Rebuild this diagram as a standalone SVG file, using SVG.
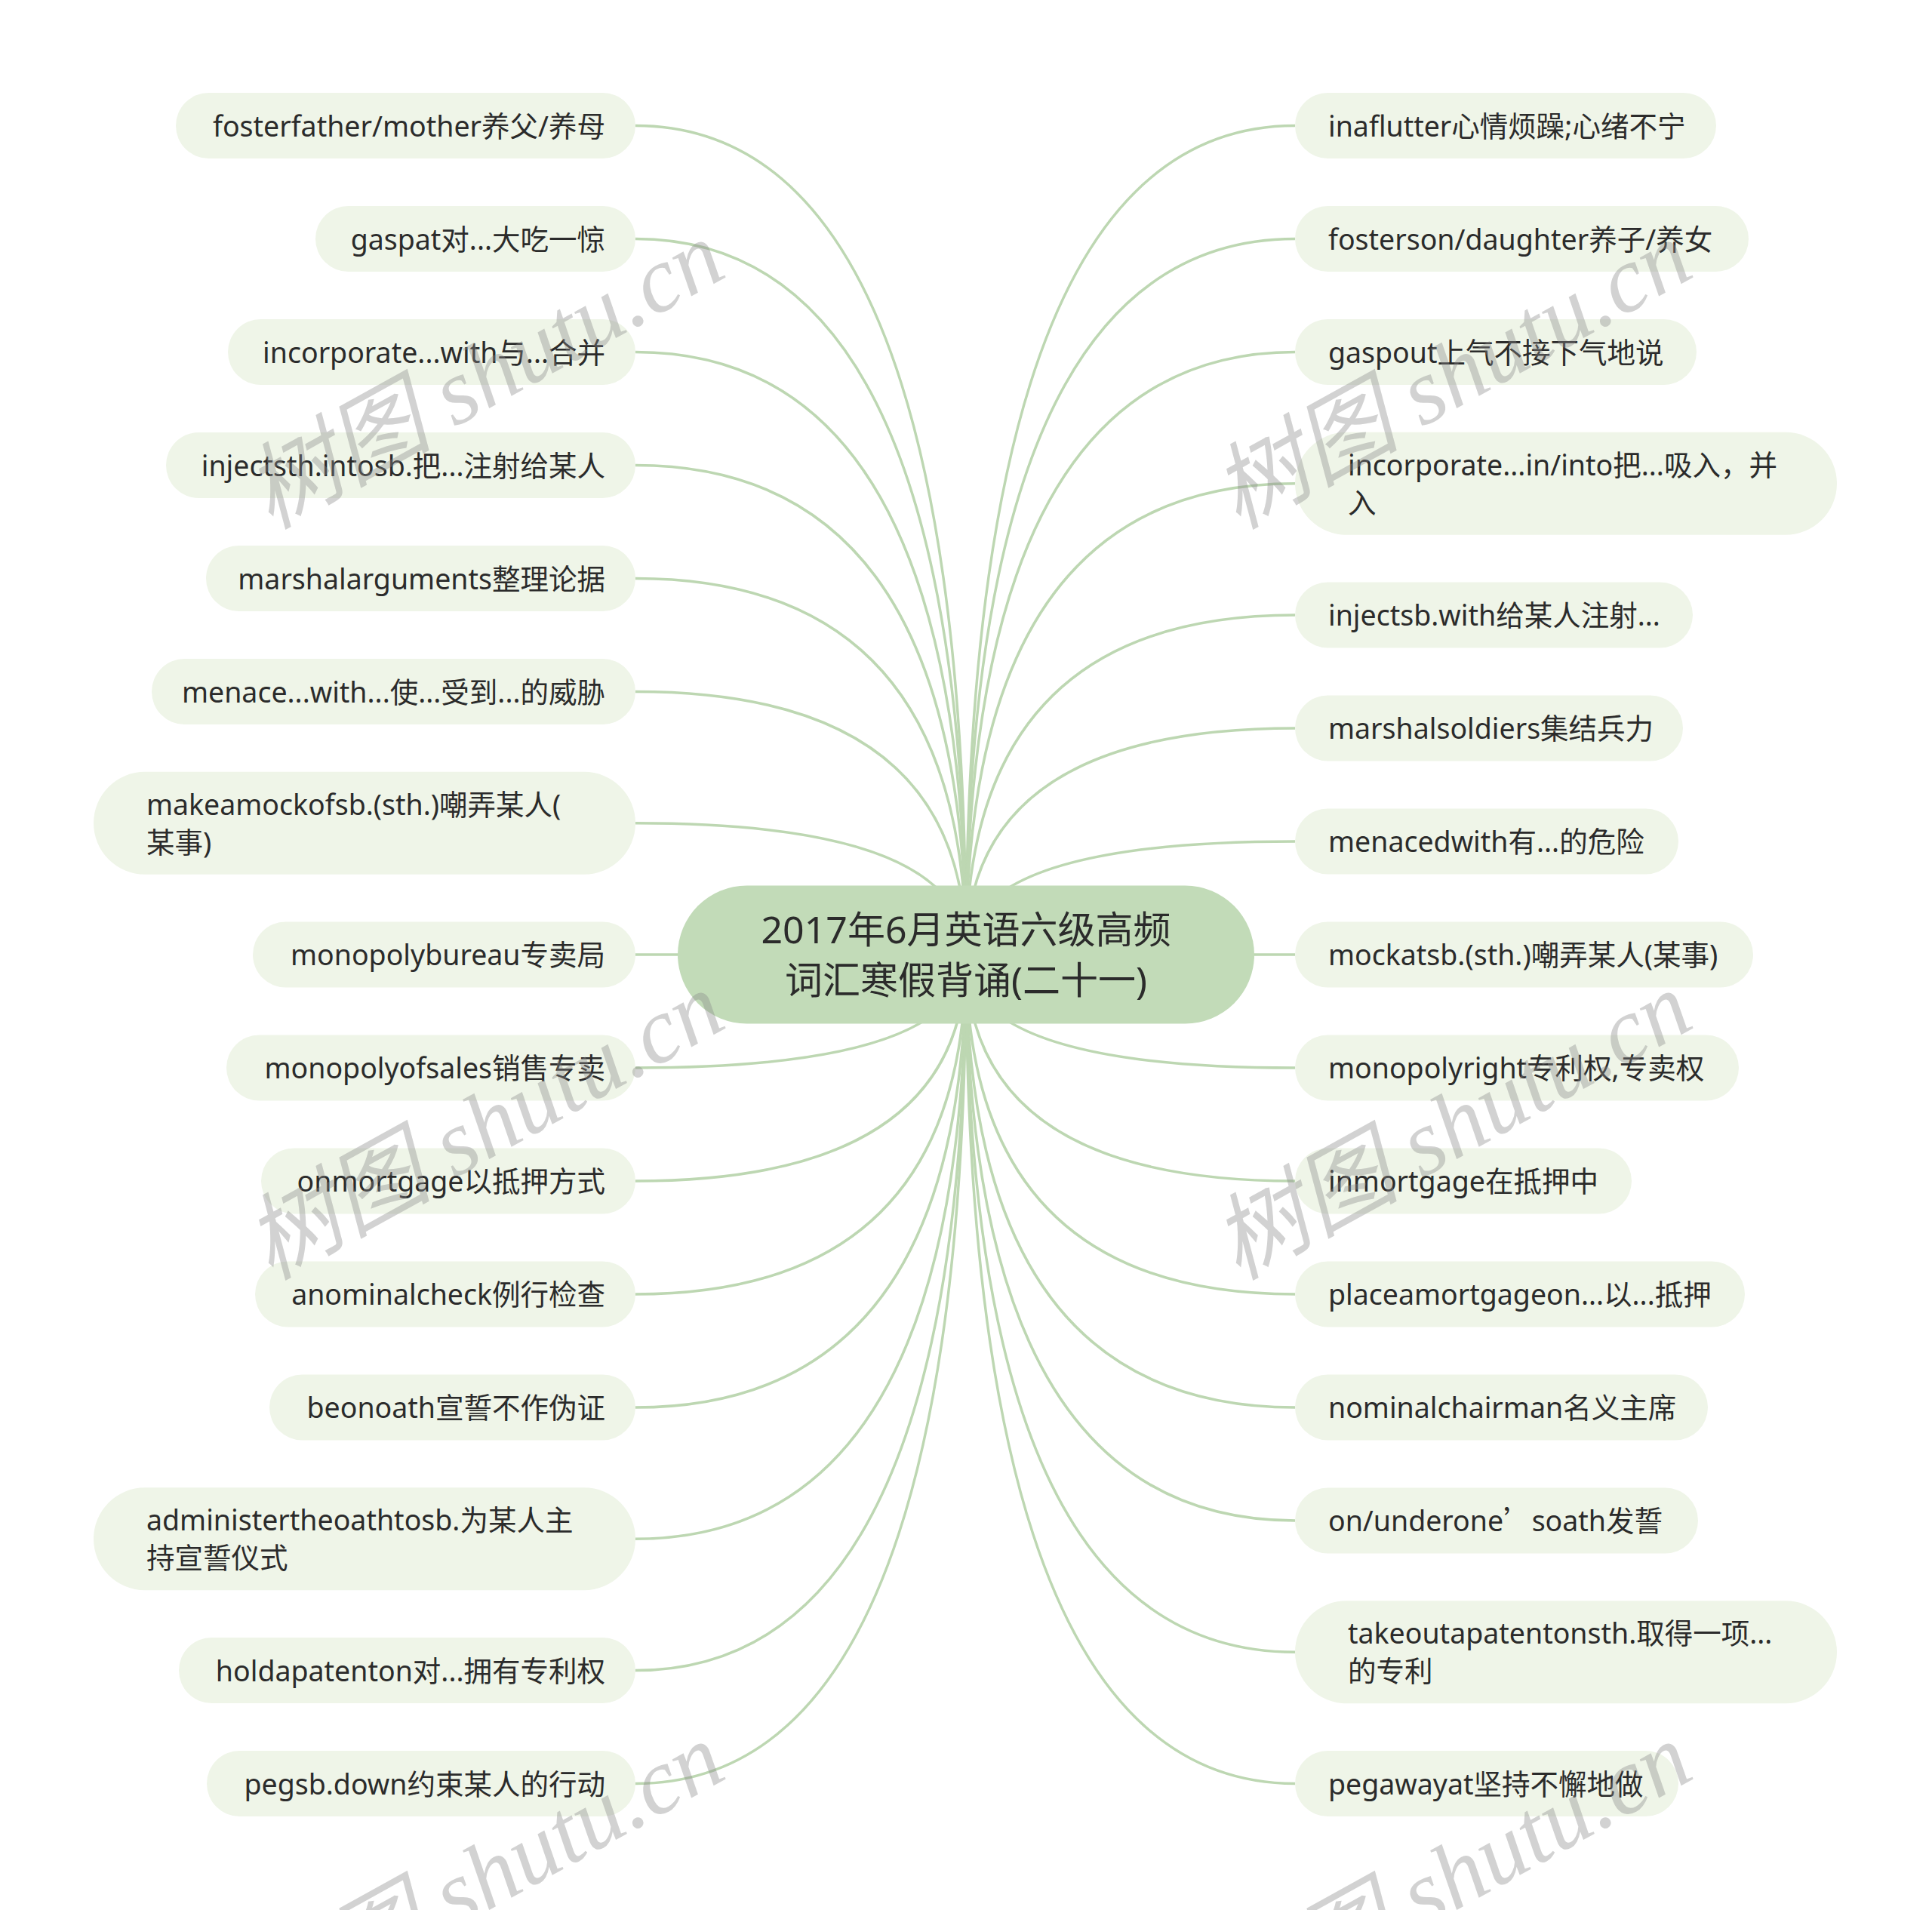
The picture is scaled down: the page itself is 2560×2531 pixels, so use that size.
<svg xmlns="http://www.w3.org/2000/svg" width="2560" height="2531" viewBox="0 0 2560 2531">
<style>
.node rect{fill:#eff5e8;}
.node text{font-family:"Noto Sans","Noto Sans CJK SC",sans-serif;font-size:37.5px;fill:#2b2b2b;}
.l text{text-anchor:end;}
.center rect{fill:#c2dbb8;}
.center text{font-family:"Noto Sans","Noto Sans CJK SC",sans-serif;font-size:50px;fill:#2b2b2b;text-anchor:middle;}
.conn path{fill:none;stroke:#bdd7b2;stroke-width:3.5;}
.wm text{font-family:"Liberation Serif","Noto Sans CJK SC",serif;font-style:italic;font-size:124px;fill:#8a8a8a;fill-opacity:0.38;}
.cjk{font-family:"Noto Sans CJK SC",sans-serif;}
</style>
<rect width="2560" height="2531" fill="#ffffff"/>
<g id="connectors" class="conn">
<path d="M842 166.5Q1280 166.5 1280 1265"/>
<path d="M842 316.5Q1280 316.5 1280 1265"/>
<path d="M842 466.5Q1280 466.5 1280 1265"/>
<path d="M842 616.5Q1280 616.5 1280 1265"/>
<path d="M842 766.5Q1280 766.5 1280 1265"/>
<path d="M842 916.5Q1280 916.5 1280 1265"/>
<path d="M842 1090.75Q1280 1090.75 1280 1265"/>
<path d="M842 1265L1280 1265"/>
<path d="M842 1415Q1280 1415 1280 1265"/>
<path d="M842 1565Q1280 1565 1280 1265"/>
<path d="M842 1715Q1280 1715 1280 1265"/>
<path d="M842 1865Q1280 1865 1280 1265"/>
<path d="M842 2039.25Q1280 2039.25 1280 1265"/>
<path d="M842 2213.5Q1280 2213.5 1280 1265"/>
<path d="M842 2363.5Q1280 2363.5 1280 1265"/>
<path d="M1716 166.5Q1280 166.5 1280 1265"/>
<path d="M1716 316.5Q1280 316.5 1280 1265"/>
<path d="M1716 466.5Q1280 466.5 1280 1265"/>
<path d="M1716 640.75Q1280 640.75 1280 1265"/>
<path d="M1716 815Q1280 815 1280 1265"/>
<path d="M1716 965Q1280 965 1280 1265"/>
<path d="M1716 1115Q1280 1115 1280 1265"/>
<path d="M1716 1265L1280 1265"/>
<path d="M1716 1415Q1280 1415 1280 1265"/>
<path d="M1716 1565Q1280 1565 1280 1265"/>
<path d="M1716 1715Q1280 1715 1280 1265"/>
<path d="M1716 1865Q1280 1865 1280 1265"/>
<path d="M1716 2015Q1280 2015 1280 1265"/>
<path d="M1716 2189.25Q1280 2189.25 1280 1265"/>
<path d="M1716 2363.5Q1280 2363.5 1280 1265"/>
</g>
<g id="center" class="center">
<rect x="898" y="1173.5" width="764" height="183" rx="91.5"/>
<text x="1280" y="1250">2017年6月英语六级高频</text>
<text x="1280" y="1317">词汇寒假背诵(二十一)</text>
</g>
<g id="L1" class="node l"><rect x="233" y="123" width="609" height="87" rx="43.5"/><text x="802" y="180.5">fosterfather/mother养父/养母</text></g>
<g id="L2" class="node l"><rect x="418" y="273" width="424" height="87" rx="43.5"/><text x="802" y="330.5">gaspat对...大吃一惊</text></g>
<g id="L3" class="node l"><rect x="302" y="423" width="540" height="87" rx="43.5"/><text x="802" y="480.5">incorporate...with与...合并</text></g>
<g id="L4" class="node l"><rect x="220" y="573" width="622" height="87" rx="43.5"/><text x="802" y="630.5">injectsth.intosb.把...注射给某人</text></g>
<g id="L5" class="node l"><rect x="273" y="723" width="569" height="87" rx="43.5"/><text x="802" y="780.5">marshalarguments整理论据</text></g>
<g id="L6" class="node l"><rect x="201" y="873" width="641" height="87" rx="43.5"/><text x="802" y="930.5">menace...with...使...受到...的威胁</text></g>
<g id="L7" class="node"><rect x="124" y="1022.75" width="718" height="136" rx="68"/><text x="194" y="1079.75">makeamockofsb.(sth.)嘲弄某人(</text><text x="194" y="1129.75">某事)</text></g>
<g id="L8" class="node l"><rect x="335" y="1221.5" width="507" height="87" rx="43.5"/><text x="802" y="1279">monopolybureau专卖局</text></g>
<g id="L9" class="node l"><rect x="300" y="1371.5" width="542" height="87" rx="43.5"/><text x="802" y="1429">monopolyofsales销售专卖</text></g>
<g id="L10" class="node l"><rect x="346" y="1521.5" width="496" height="87" rx="43.5"/><text x="802" y="1579">onmortgage以抵押方式</text></g>
<g id="L11" class="node l"><rect x="338" y="1671.5" width="504" height="87" rx="43.5"/><text x="802" y="1729">anominalcheck例行检查</text></g>
<g id="L12" class="node l"><rect x="357" y="1821.5" width="485" height="87" rx="43.5"/><text x="802" y="1879">beonoath宣誓不作伪证</text></g>
<g id="L13" class="node"><rect x="124" y="1971.25" width="718" height="136" rx="68"/><text x="194" y="2028.25">administertheoathtosb.为某人主</text><text x="194" y="2078.25">持宣誓仪式</text></g>
<g id="L14" class="node l"><rect x="237" y="2170" width="605" height="87" rx="43.5"/><text x="802" y="2227.5">holdapatenton对...拥有专利权</text></g>
<g id="L15" class="node l"><rect x="274" y="2320" width="568" height="87" rx="43.5"/><text x="802" y="2377.5">pegsb.down约束某人的行动</text></g>
<g id="R1" class="node"><rect x="1716" y="123" width="558" height="87" rx="43.5"/><text x="1760" y="180.5">inaflutter心情烦躁;心绪不宁</text></g>
<g id="R2" class="node"><rect x="1716" y="273" width="601" height="87" rx="43.5"/><text x="1760" y="330.5">fosterson/daughter养子/养女</text></g>
<g id="R3" class="node"><rect x="1716" y="423" width="532" height="87" rx="43.5"/><text x="1760" y="480.5">gaspout上气不接下气地说</text></g>
<g id="R4" class="node"><rect x="1716" y="572.75" width="718" height="136" rx="68"/><text x="1786" y="629.75">incorporate...in/into把...吸入，并</text><text x="1786" y="679.75">入</text></g>
<g id="R5" class="node"><rect x="1716" y="771.5" width="527" height="87" rx="43.5"/><text x="1760" y="829">injectsb.with给某人注射...</text></g>
<g id="R6" class="node"><rect x="1716" y="921.5" width="514" height="87" rx="43.5"/><text x="1760" y="979">marshalsoldiers集结兵力</text></g>
<g id="R7" class="node"><rect x="1716" y="1071.5" width="508" height="87" rx="43.5"/><text x="1760" y="1129">menacedwith有...的危险</text></g>
<g id="R8" class="node"><rect x="1716" y="1221.5" width="607" height="87" rx="43.5"/><text x="1760" y="1279">mockatsb.(sth.)嘲弄某人(某事)</text></g>
<g id="R9" class="node"><rect x="1716" y="1371.5" width="588" height="87" rx="43.5"/><text x="1760" y="1429">monopolyright专利权,专卖权</text></g>
<g id="R10" class="node"><rect x="1716" y="1521.5" width="446" height="87" rx="43.5"/><text x="1760" y="1579">inmortgage在抵押中</text></g>
<g id="R11" class="node"><rect x="1716" y="1671.5" width="596" height="87" rx="43.5"/><text x="1760" y="1729">placeamortgageon...以...抵押</text></g>
<g id="R12" class="node"><rect x="1716" y="1821.5" width="547" height="87" rx="43.5"/><text x="1760" y="1879">nominalchairman名义主席</text></g>
<g id="R13" class="node"><rect x="1716" y="1971.5" width="534" height="87" rx="43.5"/><text x="1760" y="2029">on/underone<tspan class="cjk">’</tspan>soath发誓</text></g>
<g id="R14" class="node"><rect x="1716" y="2121.25" width="718" height="136" rx="68"/><text x="1786" y="2178.25">takeoutapatentonsth.取得一项...</text><text x="1786" y="2228.25">的专利</text></g>
<g id="R15" class="node"><rect x="1716" y="2320" width="508" height="87" rx="43.5"/><text x="1760" y="2377.5">pegawayat坚持不懈地做</text></g>
<g id="watermarks" class="wm">
<text transform="translate(358 702) rotate(-29)">树图 shutu.cn</text>
<text transform="translate(1640 702) rotate(-29)">树图 shutu.cn</text>
<text transform="translate(358 1697) rotate(-29)">树图 shutu.cn</text>
<text transform="translate(1640 1697) rotate(-29)">树图 shutu.cn</text>
<text transform="translate(358 2692) rotate(-29)">树图 shutu.cn</text>
<text transform="translate(1640 2692) rotate(-29)">树图 shutu.cn</text>
</g>
</svg>
